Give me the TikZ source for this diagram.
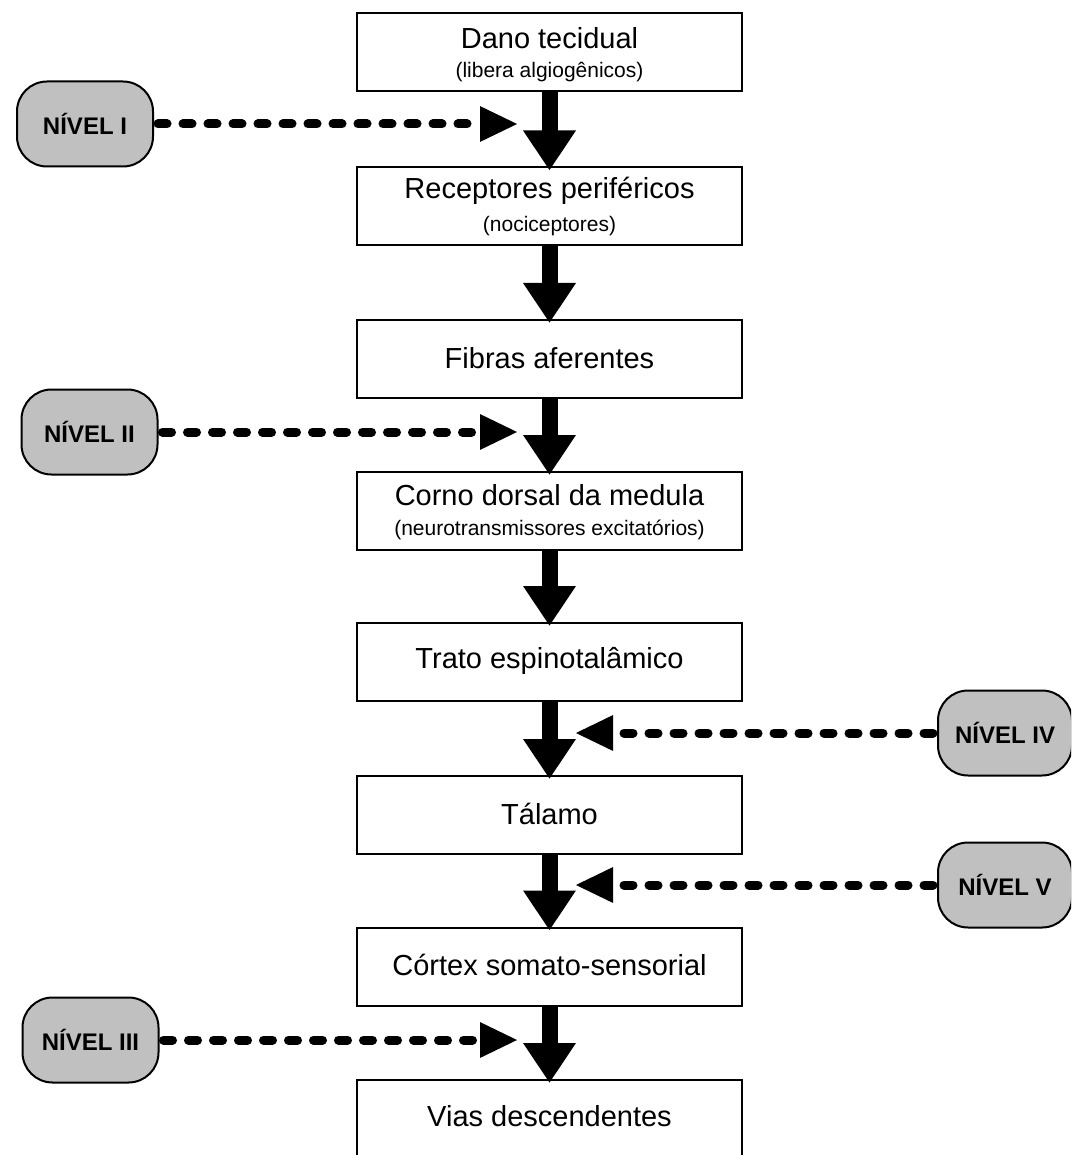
\documentclass[tikz,border=0pt]{standalone}
\usepackage{fontspec}
\setmainfont{Liberation Sans}
\usetikzlibrary{arrows.meta}
\newcommand{\mainf}{\fontsize{29}{34}\selectfont}
\newcommand{\subf}{\fontsize{21}{25}\selectfont}
\newcommand{\lvlf}{\fontsize{24}{28}\selectfont\bfseries}
\definecolor{lvlgray}{RGB}{192,192,192}
\tikzset{
  stepbox/.style={draw=black, line width=2pt, fill=white, minimum width=385pt, minimum height=78pt, inner sep=0pt},
  maintxt/.style={inner sep=0pt, font=\mainf},
  subtxt/.style={inner sep=0pt, font=\subf},
  lvlbox/.style={draw=black, line width=2pt, fill=lvlgray, rounded corners=30pt, minimum width=136pt, minimum height=85pt, inner sep=0pt, font=\lvlf},
  flow/.style={line width=16pt, -{Triangle[length=40pt,width=50pt]}},
  dasharrow/.style={line width=9pt, line cap=round, dash pattern=on 9pt off 16pt, -{Triangle[length=38pt,width=33pt,sharp]}}
}
\begin{document}
\begin{tikzpicture}[x=1pt,y=-1pt]
\useasboundingbox (0,0) rectangle (1071,1155);
\clip (0,0) rectangle (1071,1155);
% main chain
\node[stepbox] (b1) at (549.5,52.5) {};
\node[maintxt] (b1m) at (549.5,38) {Dano tecidual};
\node[subtxt] (b1s) at (549.5,72) {(libera algiogênicos)};
\node[stepbox] (b2) at (549.5,206.5) {};
\node[maintxt] (b2m) at (549.5,191) {Receptores periféricos};
\node[subtxt] (b2s) at (549.5,226) {(nociceptores)};
\node[stepbox] (b3) at (549.5,359) {};
\node[maintxt] (b3m) at (549.5,358) {Fibras aferentes};
\node[stepbox] (b4) at (549.5,511) {};
\node[maintxt] (b4m) at (549.5,495) {Corno dorsal da medula};
\node[subtxt] (b4s) at (549.5,530) {(neurotransmissores excitatórios)};
\node[stepbox] (b5) at (549.5,662) {};
\node[maintxt] (b5m) at (549.5,661) {Trato espinotalâmico};
\node[stepbox] (b6) at (549.5,815) {};
\node[maintxt] (b6m) at (549.5,814) {Tálamo};
\node[stepbox] (b7) at (549.5,966.5) {};
\node[maintxt] (b7m) at (549.5,965) {Córtex somato-sensorial};
\node[stepbox] (b8) at (549.5,1119) {};
\node[maintxt] (b8m) at (549.5,1116) {Vias descendentes};
% thick arrows
\draw[flow] (b1.south) -- ([yshift=-4pt]b2.north);
\draw[flow] (b2.south) -- ([yshift=-4pt]b3.north);
\draw[flow] (b3.south) -- ([yshift=-4pt]b4.north);
\draw[flow] (b4.south) -- ([yshift=-4pt]b5.north);
\draw[flow] (b5.south) -- ([yshift=-4pt]b6.north);
\draw[flow] (b6.south) -- ([yshift=-4pt]b7.north);
\draw[flow] (b7.south) -- ([yshift=-4pt]b8.north);
% levels
\node[lvlbox] (n1) at (85,124) {NÍVEL I};
\node[lvlbox] (n2) at (89.5,432) {NÍVEL II};
\node[lvlbox] (n3) at (90.5,1040) {NÍVEL III};
\node[lvlbox, minimum width=134pt] (n4) at (1005,733) {NÍVEL IV};
\node[lvlbox, minimum width=134pt] (n5) at (1005,885) {NÍVEL V};
% targets of dashed arrows
\coordinate (t1) at (518,124);
\coordinate (t2) at (518,432);
\coordinate (t3) at (518,1040);
\coordinate (t4) at (575,733);
\coordinate (t5) at (575,885);
\draw[dasharrow] ([xshift=4pt]n1.east) -- (t1);
\draw[dasharrow] ([xshift=4pt]n2.east) -- (t2);
\draw[dasharrow] ([xshift=4pt]n3.east) -- (t3);
\draw[dasharrow] ([xshift=-4pt]n4.west) -- (t4);
\draw[dasharrow] ([xshift=-4pt]n5.west) -- (t5);
\end{tikzpicture}
\end{document}
